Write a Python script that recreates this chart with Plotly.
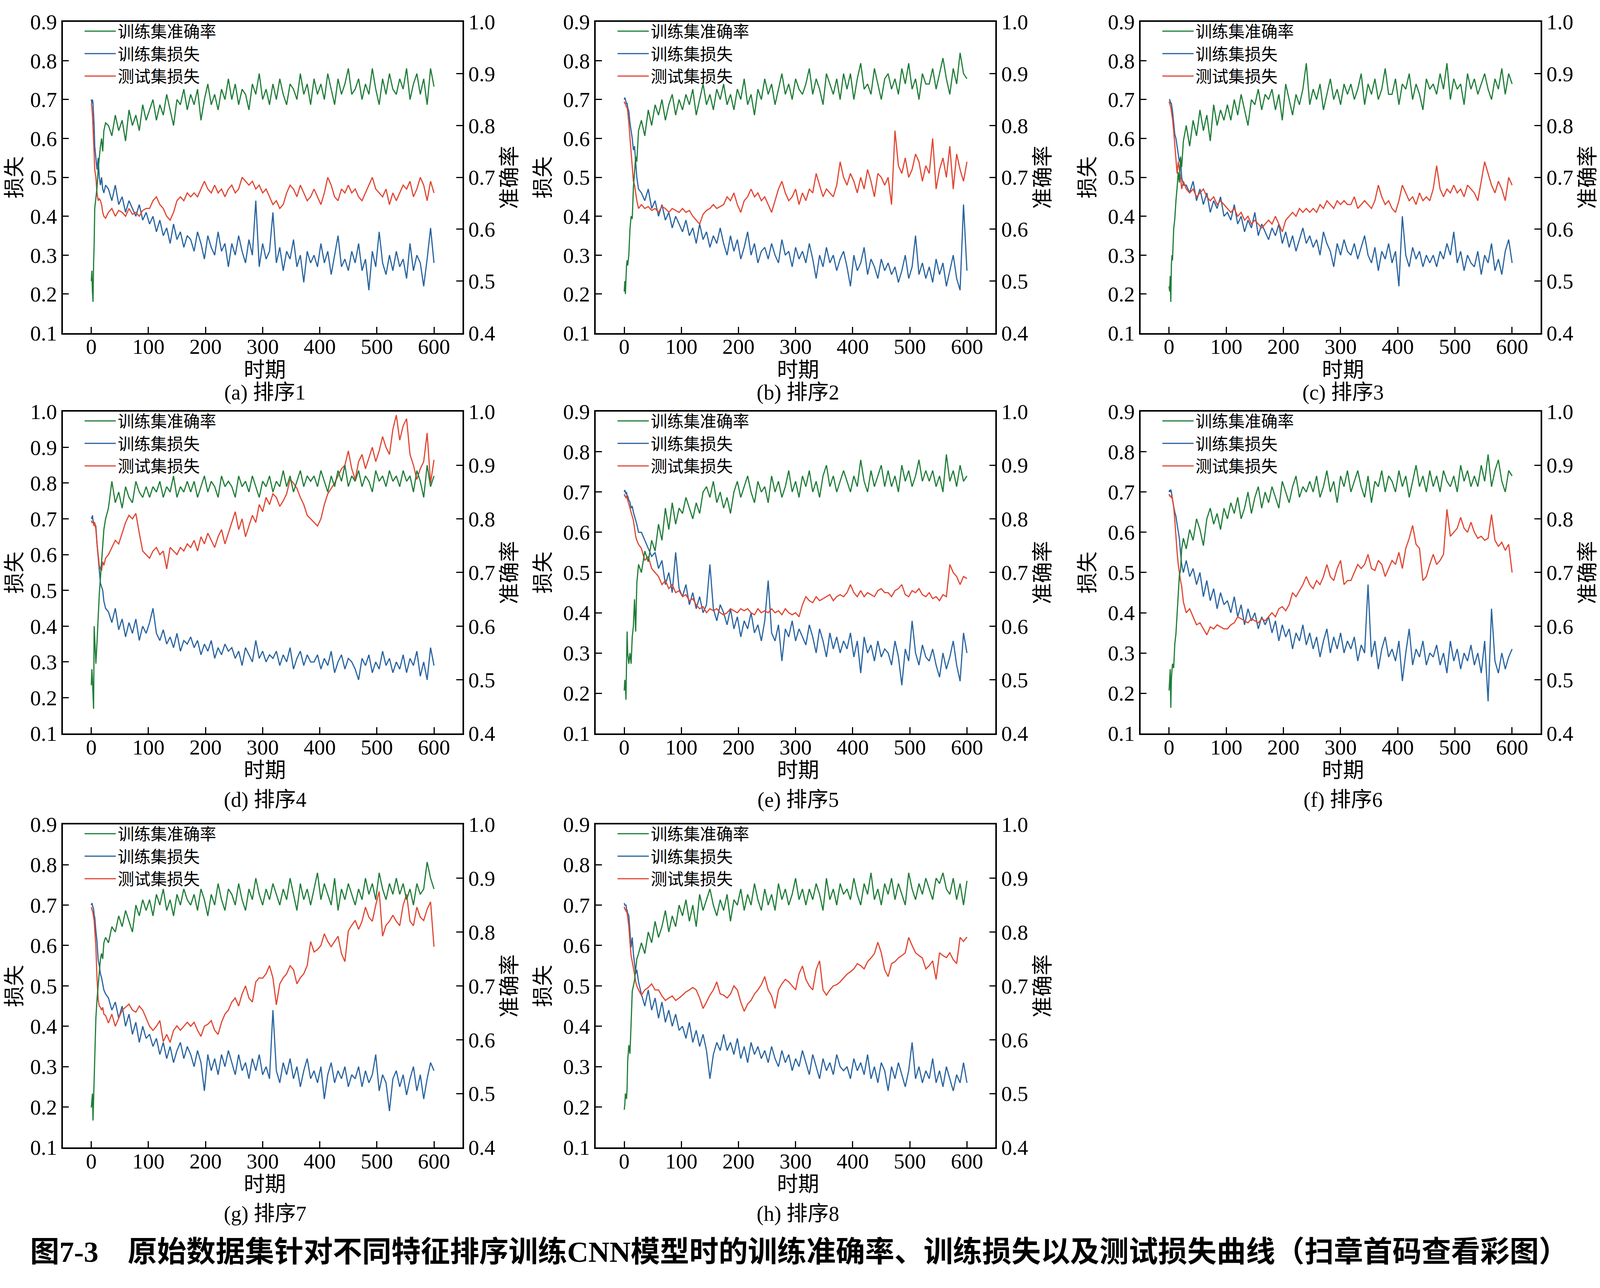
import plotly.graph_objects as go

# epochs sampled: dense at the start, then every 6 epochs
EPOCHS = [0, 1, 2, 3, 4, 5, 6, 8, 10, 12, 14, 16, 18, 20, 22, 25] + list(range(30, 601, 6))

# ---- (a) ----
acc_a = [0.50, 0.52, 0.48, 0.46, 0.535, 0.57, 0.64, 0.66, 0.68, 0.715, 0.74, 0.76, 0.775, 0.75, 0.79, 0.805,
         0.80, 0.78, 0.82, 0.79, 0.81, 0.77, 0.83, 0.80, 0.82, 0.79, 0.84, 0.81,
         0.83, 0.85, 0.81, 0.84, 0.82, 0.86, 0.83, 0.80, 0.85, 0.84, 0.87, 0.83,
         0.86, 0.84, 0.87, 0.81, 0.85, 0.88, 0.84, 0.86, 0.83, 0.87, 0.85, 0.89,
         0.85, 0.88, 0.84, 0.87, 0.86, 0.83, 0.88, 0.86, 0.90, 0.85, 0.87, 0.84,
         0.88, 0.85, 0.89, 0.86, 0.84, 0.88, 0.87, 0.85, 0.90, 0.86, 0.88, 0.84,
         0.89, 0.86, 0.88, 0.85, 0.90, 0.87, 0.84, 0.89, 0.86, 0.88, 0.91, 0.86,
         0.87, 0.89, 0.85, 0.88, 0.86, 0.91, 0.87, 0.84, 0.89, 0.86, 0.90, 0.87,
         0.86, 0.89, 0.87, 0.91, 0.85, 0.88, 0.90, 0.86, 0.89, 0.84, 0.91, 0.875]
loss_a = [0.70, 0.69, 0.70, 0.69, 0.66, 0.63, 0.58, 0.55, 0.52, 0.55, 0.50, 0.48, 0.50, 0.47, 0.46, 0.48,
          0.47, 0.44, 0.48, 0.43, 0.45, 0.41, 0.44, 0.42, 0.40, 0.43, 0.39, 0.41,
          0.38, 0.40, 0.36, 0.39, 0.35, 0.37, 0.33, 0.38, 0.34, 0.36, 0.32, 0.35,
          0.34, 0.31, 0.36, 0.33, 0.29, 0.35, 0.32, 0.30, 0.36, 0.31, 0.33, 0.27,
          0.33, 0.30, 0.35, 0.31, 0.28, 0.34, 0.30, 0.44, 0.27, 0.33, 0.29, 0.31,
          0.41, 0.28, 0.32, 0.26, 0.31, 0.29, 0.34, 0.27, 0.30, 0.23, 0.31, 0.28,
          0.30, 0.27, 0.33, 0.28, 0.31, 0.25, 0.30, 0.35, 0.27, 0.29, 0.26, 0.31,
          0.28, 0.33, 0.26, 0.29, 0.21, 0.31, 0.27, 0.36, 0.28, 0.25, 0.30, 0.26,
          0.31, 0.27, 0.29, 0.24, 0.33, 0.26, 0.30, 0.28, 0.22, 0.29, 0.37, 0.28]
test_a = [0.69, 0.68, 0.66, 0.63, 0.60, 0.56, 0.52, 0.50, 0.46, 0.44, 0.445, 0.44, 0.43, 0.41, 0.40, 0.395,
          0.41, 0.42, 0.40, 0.415, 0.41, 0.40, 0.42, 0.405, 0.41, 0.40, 0.415, 0.42,
          0.42, 0.44, 0.45, 0.43, 0.42, 0.40, 0.39, 0.41, 0.44, 0.45, 0.44, 0.46,
          0.45, 0.46, 0.45, 0.47, 0.49, 0.47, 0.46, 0.48, 0.46, 0.47, 0.45, 0.47,
          0.48, 0.46, 0.47, 0.50, 0.49, 0.48, 0.49, 0.47, 0.48, 0.46, 0.47, 0.45,
          0.43, 0.44, 0.42, 0.43, 0.46, 0.48, 0.47, 0.45, 0.48, 0.46, 0.44, 0.45,
          0.47, 0.45, 0.43, 0.46, 0.50, 0.48, 0.45, 0.44, 0.47, 0.46, 0.48, 0.46,
          0.47, 0.45, 0.44, 0.46, 0.48, 0.50, 0.47, 0.46, 0.45, 0.47, 0.43, 0.46,
          0.44, 0.46, 0.48, 0.47, 0.49, 0.45, 0.47, 0.50, 0.48, 0.44, 0.49, 0.46]

# ---- (b) ----
acc_b = [0.48, 0.50, 0.475, 0.51, 0.53, 0.54, 0.53, 0.55, 0.60, 0.625, 0.62, 0.68, 0.71, 0.74, 0.73, 0.79,
         0.81, 0.78, 0.83, 0.80, 0.84, 0.82, 0.85, 0.81, 0.84, 0.86, 0.82, 0.85,
         0.83, 0.86, 0.84, 0.87, 0.82, 0.85, 0.88, 0.84, 0.86, 0.83, 0.87, 0.85,
         0.88, 0.84, 0.86, 0.83, 0.87, 0.85, 0.89, 0.84, 0.86, 0.82, 0.87, 0.85,
         0.89, 0.86, 0.88, 0.84, 0.87, 0.90, 0.86, 0.88, 0.85, 0.89, 0.87, 0.86,
         0.88, 0.91, 0.86, 0.89, 0.87, 0.84, 0.90, 0.88, 0.86, 0.89, 0.85, 0.90,
         0.87, 0.90, 0.85, 0.89, 0.92, 0.87, 0.88, 0.86, 0.91, 0.88, 0.85, 0.89,
         0.90, 0.87, 0.89, 0.86, 0.91, 0.88, 0.92, 0.87, 0.89, 0.85, 0.90, 0.88,
         0.88, 0.91, 0.87, 0.90, 0.93, 0.89, 0.86, 0.91, 0.88, 0.94, 0.90, 0.89]
loss_b = [0.70, 0.705, 0.70, 0.695, 0.69, 0.69, 0.68, 0.67, 0.64, 0.62, 0.60, 0.57, 0.58, 0.54, 0.50, 0.47,
          0.46, 0.44, 0.47, 0.42, 0.44, 0.40, 0.43, 0.39, 0.41, 0.37, 0.40, 0.38,
          0.36, 0.39, 0.35, 0.37, 0.33, 0.38, 0.34, 0.36, 0.32, 0.35, 0.33, 0.37,
          0.33, 0.30, 0.35, 0.31, 0.34, 0.29, 0.32, 0.36, 0.30, 0.33, 0.28, 0.31,
          0.32, 0.29, 0.33, 0.30, 0.28, 0.34, 0.30, 0.31, 0.27, 0.32, 0.29, 0.31,
          0.28, 0.33, 0.29, 0.24, 0.30, 0.27, 0.32, 0.28, 0.30, 0.26, 0.29, 0.31,
          0.27, 0.22, 0.30, 0.26, 0.28, 0.32, 0.25, 0.29, 0.27, 0.24, 0.29, 0.26,
          0.28, 0.25, 0.27, 0.23, 0.26, 0.30, 0.24, 0.27, 0.35, 0.25, 0.28, 0.24,
          0.27, 0.23, 0.29, 0.25, 0.28, 0.22, 0.26, 0.30, 0.24, 0.21, 0.43, 0.26]
test_b = [0.695, 0.69, 0.69, 0.685, 0.68, 0.68, 0.67, 0.64, 0.60, 0.56, 0.52, 0.49, 0.48, 0.46, 0.44, 0.42,
          0.43, 0.42, 0.425, 0.415, 0.42, 0.41, 0.425, 0.42, 0.41, 0.42, 0.415, 0.41,
          0.42, 0.41, 0.415, 0.40, 0.39, 0.38, 0.405, 0.415, 0.42, 0.43, 0.42, 0.425,
          0.43, 0.45, 0.44, 0.46, 0.43, 0.41, 0.44, 0.45, 0.47, 0.45, 0.46, 0.44,
          0.45, 0.43, 0.41, 0.44, 0.47, 0.49, 0.46, 0.44, 0.45, 0.47, 0.43, 0.46,
          0.44, 0.47, 0.46, 0.51, 0.48, 0.45, 0.47, 0.46, 0.45, 0.48, 0.54, 0.50,
          0.48, 0.51, 0.49, 0.46, 0.50, 0.47, 0.52, 0.49, 0.45, 0.51, 0.50, 0.48,
          0.50, 0.43, 0.62, 0.53, 0.51, 0.55, 0.50, 0.52, 0.56, 0.54, 0.49, 0.53,
          0.51, 0.60, 0.47, 0.52, 0.55, 0.50, 0.58, 0.47, 0.56, 0.52, 0.49, 0.54]

# ---- (c) ----
acc_c = [0.49, 0.48, 0.51, 0.46, 0.53, 0.55, 0.54, 0.60, 0.62, 0.655, 0.68, 0.71, 0.69, 0.74, 0.72, 0.77,
         0.80, 0.76, 0.81, 0.78, 0.83, 0.79, 0.82, 0.77, 0.84, 0.80, 0.83, 0.81,
         0.84, 0.81, 0.85, 0.82, 0.86, 0.83, 0.80, 0.85, 0.84, 0.87, 0.83, 0.86,
         0.85, 0.87, 0.83, 0.86, 0.81, 0.88, 0.85, 0.82, 0.86, 0.84, 0.87, 0.92,
         0.84, 0.87, 0.85, 0.88, 0.83, 0.86, 0.89, 0.85, 0.87, 0.84, 0.88, 0.86,
         0.88, 0.85, 0.87, 0.90, 0.84, 0.88, 0.86, 0.89, 0.85, 0.87, 0.91, 0.86,
         0.86, 0.89, 0.84, 0.88, 0.87, 0.90, 0.85, 0.88, 0.86, 0.83, 0.89, 0.87,
         0.88, 0.86, 0.90, 0.87, 0.92, 0.85, 0.89, 0.87, 0.88, 0.84, 0.90, 0.87,
         0.89, 0.86, 0.88, 0.90, 0.87, 0.85, 0.89, 0.87, 0.91, 0.86, 0.90, 0.88]
loss_c = [0.70, 0.70, 0.695, 0.69, 0.69, 0.68, 0.67, 0.64, 0.61, 0.60, 0.58, 0.56, 0.54, 0.55, 0.50, 0.48,
          0.48, 0.46, 0.49, 0.44, 0.47, 0.43, 0.46, 0.41, 0.44, 0.42, 0.45, 0.40,
          0.41, 0.39, 0.43, 0.38, 0.40, 0.36, 0.39, 0.37, 0.41, 0.35, 0.38, 0.36,
          0.34, 0.37, 0.35, 0.38, 0.33, 0.36, 0.32, 0.35, 0.31, 0.34, 0.37, 0.33,
          0.35, 0.32, 0.34, 0.30, 0.36, 0.33, 0.31, 0.27, 0.33, 0.30, 0.34, 0.31,
          0.30, 0.33, 0.29, 0.32, 0.35, 0.30, 0.28, 0.32, 0.26, 0.31, 0.29, 0.33,
          0.28, 0.31, 0.22, 0.40, 0.30, 0.27, 0.32, 0.29, 0.31, 0.27, 0.30, 0.28,
          0.30, 0.27, 0.31, 0.29, 0.33, 0.30, 0.36, 0.28, 0.31, 0.26, 0.30, 0.28,
          0.27, 0.31, 0.25, 0.30, 0.28, 0.33, 0.26, 0.29, 0.25, 0.31, 0.34, 0.28]
test_c = [0.695, 0.69, 0.685, 0.68, 0.67, 0.66, 0.65, 0.62, 0.58, 0.55, 0.51, 0.54, 0.52, 0.50, 0.47, 0.49,
          0.47, 0.46, 0.47, 0.45, 0.46, 0.47, 0.45, 0.44, 0.45, 0.43, 0.44, 0.43,
          0.42, 0.41, 0.42, 0.40, 0.41, 0.39, 0.40, 0.38, 0.39, 0.38, 0.37, 0.38,
          0.39, 0.38, 0.40, 0.38, 0.36, 0.39, 0.40, 0.41, 0.40, 0.42, 0.41, 0.42,
          0.41, 0.42, 0.41, 0.43, 0.42, 0.44, 0.43, 0.42, 0.44, 0.43, 0.44, 0.43,
          0.43, 0.45, 0.42, 0.43, 0.44, 0.43, 0.42, 0.44, 0.48, 0.45, 0.43, 0.44,
          0.42, 0.41, 0.44, 0.48, 0.46, 0.44, 0.45, 0.43, 0.46, 0.44, 0.45, 0.44,
          0.47, 0.53, 0.47, 0.45, 0.47, 0.46, 0.48, 0.46, 0.47, 0.45, 0.48, 0.47,
          0.46, 0.44, 0.49, 0.54, 0.51, 0.48, 0.46, 0.49, 0.47, 0.44, 0.50, 0.48]

# ---- (d) ----
acc_d = [0.49, 0.52, 0.50, 0.47, 0.446, 0.60, 0.58, 0.53, 0.57, 0.62, 0.66, 0.69, 0.72, 0.75, 0.78, 0.80,
         0.82, 0.87, 0.83, 0.85, 0.82, 0.86, 0.84, 0.83, 0.87, 0.85, 0.84, 0.86,
         0.84, 0.86, 0.85, 0.87, 0.84, 0.86, 0.85, 0.88, 0.84, 0.86, 0.85, 0.87,
         0.85, 0.87, 0.84, 0.86, 0.88, 0.85, 0.87, 0.86, 0.84, 0.88, 0.86, 0.87,
         0.86, 0.84, 0.88, 0.86, 0.87, 0.85, 0.88, 0.86, 0.84, 0.87, 0.86, 0.88,
         0.85, 0.87, 0.86, 0.89, 0.86, 0.88, 0.85, 0.87, 0.89, 0.86, 0.88, 0.87,
         0.88, 0.86, 0.89, 0.87, 0.85, 0.88, 0.86, 0.89, 0.87, 0.90, 0.86, 0.88,
         0.87, 0.89, 0.86, 0.88, 0.87, 0.85, 0.89, 0.87, 0.88, 0.86, 0.89, 0.87,
         0.88, 0.86, 0.89, 0.87, 0.88, 0.85, 0.89, 0.87, 0.84, 0.90, 0.86, 0.88]
loss_d = [0.705, 0.70, 0.71, 0.695, 0.69, 0.69, 0.685, 0.68, 0.63, 0.59, 0.55, 0.52, 0.51, 0.50, 0.47, 0.45,
          0.44, 0.41, 0.45, 0.39, 0.42, 0.37, 0.41, 0.38, 0.42, 0.36, 0.40, 0.38,
          0.41, 0.45, 0.38, 0.36, 0.39, 0.35, 0.37, 0.34, 0.38, 0.33, 0.36, 0.35,
          0.37, 0.34, 0.36, 0.32, 0.35, 0.33, 0.36, 0.31, 0.34, 0.32, 0.35, 0.33,
          0.34, 0.31, 0.33, 0.29, 0.34, 0.32, 0.30, 0.36, 0.31, 0.33, 0.30, 0.32,
          0.31, 0.33, 0.29, 0.32, 0.30, 0.34, 0.28, 0.31, 0.33, 0.29, 0.32, 0.30,
          0.30, 0.32, 0.28, 0.31, 0.29, 0.33, 0.27, 0.30, 0.32, 0.28, 0.31, 0.30,
          0.28, 0.25, 0.31, 0.29, 0.32, 0.27, 0.30, 0.28, 0.33, 0.29, 0.31, 0.27,
          0.30, 0.28, 0.32, 0.27, 0.31, 0.29, 0.33, 0.26, 0.30, 0.25, 0.34, 0.29]
test_d = [0.695, 0.69, 0.69, 0.69, 0.685, 0.68, 0.69, 0.67, 0.63, 0.60, 0.57, 0.56, 0.555, 0.58, 0.57, 0.59,
          0.60, 0.62, 0.64, 0.63, 0.66, 0.69, 0.71, 0.70, 0.715, 0.66, 0.61, 0.60,
          0.59, 0.61, 0.62, 0.60, 0.61, 0.56, 0.62, 0.61, 0.60, 0.62, 0.61, 0.63,
          0.62, 0.64, 0.61, 0.65, 0.63, 0.66, 0.64, 0.62, 0.65, 0.67, 0.63, 0.66,
          0.69, 0.72, 0.67, 0.70, 0.65, 0.68, 0.71, 0.69, 0.74, 0.72, 0.76, 0.74,
          0.77, 0.76, 0.735, 0.75, 0.77, 0.81, 0.80, 0.785, 0.76, 0.74, 0.71, 0.70,
          0.69, 0.68, 0.70, 0.74, 0.77, 0.785, 0.80, 0.82, 0.84, 0.85, 0.89, 0.84,
          0.81, 0.86, 0.88, 0.84, 0.87, 0.90, 0.86, 0.89, 0.93, 0.90, 0.88, 0.95,
          0.99, 0.92, 0.96, 0.98, 0.88, 0.85, 0.81, 0.84, 0.86, 0.94, 0.80, 0.865]

# ---- (e) ----
acc_e = [0.48, 0.50, 0.49, 0.463, 0.53, 0.59, 0.55, 0.53, 0.55, 0.53, 0.58, 0.60, 0.65, 0.59, 0.68, 0.715,
         0.70, 0.74, 0.72, 0.76, 0.74, 0.79, 0.76, 0.82, 0.78, 0.83, 0.79, 0.82,
         0.81, 0.84, 0.82, 0.80, 0.83, 0.81, 0.85, 0.86, 0.84, 0.87, 0.83, 0.85,
         0.82, 0.84, 0.81, 0.85, 0.87, 0.84, 0.86, 0.88, 0.85, 0.83, 0.87, 0.85,
         0.86, 0.83, 0.88, 0.85, 0.87, 0.84, 0.86, 0.89, 0.85, 0.87, 0.84, 0.88,
         0.86, 0.89, 0.85, 0.87, 0.84, 0.88, 0.90, 0.86, 0.88, 0.85, 0.87, 0.89,
         0.87, 0.85, 0.88, 0.86, 0.91, 0.87, 0.85, 0.89, 0.86, 0.88, 0.90, 0.86,
         0.89, 0.86, 0.88, 0.85, 0.90, 0.87, 0.89, 0.86, 0.88, 0.91, 0.87, 0.89,
         0.87, 0.89, 0.86, 0.88, 0.85, 0.92, 0.87, 0.89, 0.86, 0.90, 0.87, 0.88]
loss_e = [0.70, 0.705, 0.70, 0.695, 0.70, 0.69, 0.69, 0.68, 0.675, 0.66, 0.665, 0.65, 0.64, 0.63, 0.62, 0.60,
          0.60, 0.58, 0.56, 0.54, 0.55, 0.51, 0.53, 0.47, 0.50, 0.45, 0.55, 0.46,
          0.44, 0.47, 0.42, 0.45, 0.41, 0.44, 0.40, 0.42, 0.52, 0.41, 0.38, 0.42,
          0.40, 0.37, 0.41, 0.36, 0.39, 0.34, 0.38, 0.36, 0.40, 0.35, 0.37, 0.33,
          0.38, 0.48, 0.35, 0.33, 0.37, 0.28, 0.36, 0.34, 0.38, 0.33, 0.36, 0.34,
          0.32, 0.37, 0.34, 0.30, 0.36, 0.33, 0.29, 0.35, 0.31, 0.34, 0.30, 0.33,
          0.31, 0.35, 0.29, 0.33, 0.25, 0.34, 0.30, 0.32, 0.28, 0.33, 0.29, 0.31,
          0.30, 0.27, 0.33, 0.29, 0.22, 0.31, 0.28, 0.38, 0.30, 0.27, 0.32, 0.29,
          0.28, 0.31, 0.27, 0.24, 0.30, 0.26, 0.29, 0.33, 0.27, 0.23, 0.35, 0.30]
test_e = [0.695, 0.69, 0.69, 0.685, 0.69, 0.685, 0.68, 0.67, 0.66, 0.65, 0.64, 0.63, 0.61, 0.59, 0.58, 0.57,
          0.56, 0.53, 0.54, 0.51, 0.50, 0.49, 0.47, 0.48, 0.46, 0.47, 0.45, 0.455,
          0.44, 0.445, 0.43, 0.435, 0.42, 0.41, 0.415, 0.40, 0.41, 0.405, 0.41, 0.40,
          0.395, 0.40, 0.41, 0.405, 0.40, 0.41, 0.405, 0.41, 0.40, 0.395, 0.41, 0.40,
          0.405, 0.40, 0.41, 0.40, 0.405, 0.395, 0.41, 0.40, 0.395, 0.40, 0.39, 0.42,
          0.44, 0.43, 0.425, 0.44, 0.43, 0.435, 0.44, 0.445, 0.43, 0.44, 0.445, 0.44,
          0.45, 0.47, 0.45, 0.44, 0.455, 0.44, 0.45, 0.445, 0.44, 0.455, 0.46, 0.45,
          0.45, 0.44, 0.455, 0.46, 0.47, 0.445, 0.44, 0.455, 0.45, 0.46, 0.445, 0.44,
          0.45, 0.435, 0.44, 0.43, 0.445, 0.44, 0.52, 0.50, 0.49, 0.47, 0.49, 0.485]

# ---- (f) ----
acc_f = [0.48, 0.50, 0.52, 0.448, 0.50, 0.517, 0.53, 0.522, 0.567, 0.586, 0.62, 0.66, 0.695, 0.704, 0.744, 0.764,
         0.744, 0.78, 0.76, 0.80, 0.78, 0.75, 0.80, 0.82, 0.79, 0.81, 0.78, 0.82,
         0.80, 0.83, 0.81, 0.84, 0.80, 0.82, 0.85, 0.81, 0.84, 0.86, 0.82, 0.85,
         0.83, 0.86, 0.84, 0.82, 0.87, 0.85, 0.83, 0.86, 0.88, 0.84, 0.86, 0.85,
         0.87, 0.85, 0.88, 0.84, 0.86, 0.89, 0.85, 0.87, 0.83, 0.88, 0.86, 0.89,
         0.85, 0.87, 0.89, 0.86, 0.84, 0.88, 0.83, 0.87, 0.86, 0.89, 0.85, 0.88,
         0.87, 0.85, 0.89, 0.86, 0.88, 0.84, 0.87, 0.90, 0.86, 0.88, 0.85, 0.89,
         0.86, 0.88, 0.85, 0.89, 0.87, 0.86, 0.88, 0.85, 0.90, 0.87, 0.89, 0.86,
         0.88, 0.86, 0.90, 0.87, 0.92, 0.86, 0.89, 0.91, 0.87, 0.85, 0.89, 0.88]
loss_f = [0.70, 0.705, 0.70, 0.706, 0.70, 0.69, 0.68, 0.664, 0.65, 0.64, 0.62, 0.60, 0.585, 0.55, 0.52, 0.50,
          0.53, 0.49, 0.51, 0.47, 0.50, 0.44, 0.48, 0.43, 0.46, 0.41, 0.45, 0.42,
          0.43, 0.40, 0.44, 0.39, 0.42, 0.37, 0.41, 0.38, 0.40, 0.36, 0.39, 0.37,
          0.39, 0.35, 0.38, 0.33, 0.37, 0.34, 0.36, 0.31, 0.35, 0.33, 0.37, 0.32,
          0.35, 0.31, 0.34, 0.29, 0.33, 0.36, 0.30, 0.34, 0.31, 0.35, 0.30, 0.33,
          0.31, 0.34, 0.28, 0.32, 0.30, 0.47, 0.29, 0.33, 0.26, 0.31, 0.34, 0.29,
          0.31, 0.28, 0.33, 0.23, 0.30, 0.36, 0.27, 0.31, 0.29, 0.33, 0.27, 0.30,
          0.29, 0.32, 0.27, 0.30, 0.25, 0.33, 0.28, 0.31, 0.26, 0.30, 0.28, 0.32,
          0.27, 0.30, 0.25, 0.33, 0.18, 0.41, 0.28, 0.25, 0.30, 0.26, 0.29, 0.31]
test_f = [0.695, 0.69, 0.69, 0.69, 0.685, 0.69, 0.68, 0.664, 0.63, 0.585, 0.55, 0.52, 0.50, 0.48, 0.466, 0.427,
          0.40, 0.41, 0.39, 0.37, 0.375, 0.36, 0.345, 0.365, 0.36, 0.37, 0.365, 0.36,
          0.36, 0.37, 0.375, 0.39, 0.385, 0.38, 0.375, 0.385, 0.38, 0.375, 0.385, 0.38,
          0.39, 0.40, 0.39, 0.41, 0.415, 0.405, 0.42, 0.45, 0.44, 0.455, 0.47, 0.49,
          0.47, 0.46, 0.48, 0.47, 0.49, 0.52, 0.49, 0.48, 0.51, 0.53, 0.47, 0.48,
          0.48, 0.50, 0.52, 0.51, 0.52, 0.545, 0.51, 0.505, 0.53, 0.52, 0.49, 0.51,
          0.53, 0.52, 0.55, 0.51, 0.56, 0.585, 0.617, 0.57, 0.56, 0.48, 0.49, 0.52,
          0.545, 0.52, 0.53, 0.545, 0.657, 0.59, 0.60, 0.61, 0.637, 0.61, 0.60, 0.625,
          0.60, 0.585, 0.59, 0.58, 0.585, 0.644, 0.58, 0.565, 0.575, 0.555, 0.57, 0.50]

# ---- (g) ----
acc_g = [0.474, 0.49, 0.50, 0.45, 0.49, 0.52, 0.55, 0.64, 0.675, 0.70, 0.73, 0.75, 0.76, 0.75, 0.78, 0.79,
         0.78, 0.81, 0.80, 0.83, 0.81, 0.84, 0.82, 0.80, 0.85, 0.83, 0.86, 0.84,
         0.86, 0.83, 0.87, 0.85, 0.88, 0.84, 0.86, 0.83, 0.87, 0.85, 0.88, 0.86,
         0.85, 0.87, 0.84, 0.88, 0.86, 0.83, 0.87, 0.85, 0.89, 0.86, 0.84, 0.88,
         0.87, 0.85, 0.89, 0.86, 0.84, 0.88, 0.86, 0.90, 0.87, 0.85, 0.88, 0.86,
         0.89, 0.87, 0.85, 0.88, 0.86, 0.90, 0.87, 0.84, 0.89, 0.86, 0.88, 0.85,
         0.88, 0.91, 0.86, 0.89, 0.87, 0.85, 0.90, 0.84, 0.88, 0.86, 0.89, 0.87,
         0.85, 0.88, 0.86, 0.90, 0.87, 0.89, 0.86, 0.91, 0.88, 0.86, 0.89, 0.87,
         0.90, 0.87, 0.89, 0.86, 0.88, 0.85, 0.89, 0.87, 0.88, 0.93, 0.90, 0.88]
loss_g = [0.70, 0.705, 0.70, 0.695, 0.69, 0.675, 0.67, 0.636, 0.61, 0.564, 0.55, 0.53, 0.52, 0.505, 0.49, 0.48,
          0.47, 0.44, 0.46, 0.42, 0.45, 0.40, 0.43, 0.38, 0.41, 0.36, 0.40, 0.37,
          0.38, 0.35, 0.37, 0.33, 0.36, 0.32, 0.35, 0.31, 0.34, 0.36, 0.32, 0.35,
          0.33, 0.30, 0.34, 0.31, 0.24, 0.33, 0.29, 0.32, 0.28, 0.33, 0.30, 0.34,
          0.31, 0.28, 0.33, 0.29, 0.31, 0.27, 0.32, 0.29, 0.33, 0.28, 0.30, 0.27,
          0.44, 0.29, 0.26, 0.31, 0.28, 0.32, 0.27, 0.30, 0.25, 0.29, 0.32, 0.27,
          0.29, 0.26, 0.30, 0.22, 0.28, 0.31, 0.26, 0.29, 0.27, 0.30, 0.25, 0.28,
          0.27, 0.30, 0.25, 0.29, 0.26, 0.28, 0.33, 0.24, 0.28, 0.26, 0.19, 0.27,
          0.29, 0.25, 0.28, 0.23, 0.27, 0.30, 0.24, 0.28, 0.22, 0.27, 0.31, 0.29]
test_g = [0.695, 0.69, 0.685, 0.68, 0.67, 0.662, 0.64, 0.597, 0.519, 0.466, 0.45, 0.447, 0.44, 0.447, 0.43, 0.427,
          0.408, 0.43, 0.40, 0.42, 0.44, 0.447, 0.455, 0.44, 0.435, 0.45, 0.44, 0.42,
          0.40, 0.39, 0.40, 0.414, 0.362, 0.38, 0.36, 0.39, 0.401, 0.39, 0.40, 0.41,
          0.40, 0.41, 0.39, 0.375, 0.40, 0.405, 0.414, 0.39, 0.38, 0.41, 0.43, 0.44,
          0.46, 0.47, 0.45, 0.48, 0.50, 0.47, 0.46, 0.51, 0.52, 0.519, 0.53, 0.55,
          0.52, 0.453, 0.505, 0.52, 0.53, 0.55, 0.54, 0.505, 0.52, 0.53, 0.55, 0.61,
          0.584, 0.59, 0.60, 0.629, 0.61, 0.597, 0.61, 0.623, 0.58, 0.56, 0.636, 0.65,
          0.662, 0.64, 0.66, 0.695, 0.67, 0.66, 0.70, 0.734, 0.623, 0.65, 0.66, 0.675,
          0.66, 0.649, 0.70, 0.727, 0.66, 0.649, 0.695, 0.67, 0.662, 0.69, 0.708, 0.597]

# ---- (h) ----
acc_h = [0.47, 0.48, 0.50, 0.495, 0.49, 0.51, 0.56, 0.59, 0.574, 0.63, 0.69, 0.70, 0.71, 0.73, 0.75, 0.76,
         0.78, 0.76, 0.80, 0.78, 0.82, 0.79, 0.81, 0.84, 0.80, 0.83, 0.81, 0.85,
         0.83, 0.86, 0.82, 0.85, 0.81, 0.87, 0.84, 0.86, 0.88, 0.85, 0.83, 0.86,
         0.84, 0.87, 0.82, 0.86, 0.85, 0.88, 0.84, 0.87, 0.85, 0.89, 0.86, 0.84,
         0.88, 0.85, 0.87, 0.84, 0.89, 0.86, 0.88, 0.85, 0.87, 0.90, 0.86, 0.88,
         0.85, 0.88, 0.86, 0.89, 0.87, 0.84, 0.90, 0.86, 0.88, 0.85, 0.89, 0.87,
         0.88, 0.86, 0.90, 0.87, 0.85, 0.89, 0.87, 0.91, 0.86, 0.88, 0.85, 0.89,
         0.87, 0.90, 0.86, 0.89, 0.87, 0.85, 0.91, 0.88, 0.86, 0.89, 0.87, 0.90,
         0.88, 0.86, 0.90, 0.89, 0.91, 0.88, 0.87, 0.90, 0.86, 0.89, 0.85, 0.895]
loss_h = [0.705, 0.70, 0.70, 0.70, 0.69, 0.687, 0.68, 0.674, 0.634, 0.595, 0.62, 0.58, 0.555, 0.53, 0.54, 0.51,
          0.48, 0.45, 0.49, 0.44, 0.47, 0.42, 0.46, 0.41, 0.44, 0.40, 0.43, 0.39,
          0.40, 0.37, 0.41, 0.36, 0.39, 0.35, 0.38, 0.34, 0.27, 0.33, 0.36, 0.34,
          0.38, 0.34, 0.36, 0.33, 0.37, 0.32, 0.35, 0.31, 0.36, 0.33, 0.35, 0.32,
          0.34, 0.31, 0.35, 0.32, 0.30, 0.34, 0.31, 0.33, 0.29, 0.32, 0.30, 0.34,
          0.31, 0.28, 0.33, 0.30, 0.27, 0.32, 0.29, 0.31, 0.28, 0.33, 0.30, 0.29,
          0.30, 0.27, 0.32, 0.29, 0.31, 0.28, 0.33, 0.27, 0.30, 0.26, 0.31, 0.29,
          0.24, 0.30, 0.27, 0.31, 0.28, 0.25, 0.29, 0.36, 0.27, 0.30, 0.26, 0.29,
          0.27, 0.32, 0.26, 0.29, 0.25, 0.30, 0.27, 0.24, 0.28, 0.26, 0.31, 0.26]
test_h = [0.696, 0.69, 0.69, 0.685, 0.685, 0.68, 0.67, 0.647, 0.608, 0.575, 0.56, 0.545, 0.529, 0.51, 0.50, 0.49,
          0.477, 0.49, 0.496, 0.505, 0.49, 0.49, 0.475, 0.464, 0.47, 0.475, 0.464, 0.47,
          0.477, 0.485, 0.49, 0.496, 0.49, 0.47, 0.444, 0.46, 0.477, 0.49, 0.51, 0.48,
          0.477, 0.47, 0.48, 0.50, 0.49, 0.46, 0.437, 0.455, 0.464, 0.48, 0.49, 0.503,
          0.523, 0.49, 0.475, 0.444, 0.49, 0.505, 0.516, 0.51, 0.50, 0.49, 0.53, 0.549,
          0.516, 0.50, 0.49, 0.54, 0.562, 0.49, 0.477, 0.49, 0.50, 0.503, 0.51, 0.52,
          0.529, 0.535, 0.542, 0.555, 0.55, 0.542, 0.56, 0.569, 0.58, 0.608, 0.582, 0.54,
          0.523, 0.555, 0.56, 0.569, 0.575, 0.582, 0.62, 0.60, 0.582, 0.575, 0.569, 0.542,
          0.55, 0.562, 0.516, 0.582, 0.575, 0.57, 0.582, 0.565, 0.555, 0.62, 0.61, 0.621]

TAGS = ["(a) 排序1", "(b) 排序2", "(c) 排序3", "(d) 排序4",
        "(e) 排序5", "(f) 排序6", "(g) 排序7", "(h) 排序8"]
LOSS_TOP = [0.9, 0.9, 0.9, 1.0, 0.9, 0.9, 0.9, 0.9]
SERIES = [(acc_a, loss_a, test_a), (acc_b, loss_b, test_b), (acc_c, loss_c, test_c),
          (acc_d, loss_d, test_d), (acc_e, loss_e, test_e), (acc_f, loss_f, test_f),
          (acc_g, loss_g, test_g), (acc_h, loss_h, test_h)]
NAMES = ["训练集准确率", "训练集损失", "测试集损失"]
TITLE = "图7-3\u3000原始数据集针对不同特征排序训练CNN模型时的训练准确率、训练损失以及测试损失曲线（扫章首码查看彩图）"

for s in SERIES:
    for arr in s:
        assert len(arr) == len(EPOCHS), len(arr)

FONT = "Liberation Serif, Noto Sans CJK SC"
GREEN, BLUE, RED = "#1e7d37", "#2864a0", "#e14632"

# the photographed page comes out a little wider and lower than the figure,
# so positions measured on the reference are mapped back before use
OFF = 8
W, H = 4182 - 2 * OFF, 3298 - 2 * OFF
SCALE_X, SHIFT_X, SHIFT_Y = 1.021, 4, 24
COL_X = [(160, 1205), (1553, 2598), (2977, 4023)]
ROW_Y = [(50, 862), (1067, 1907), (2144, 2987)]   # first row top kept clear of the page edge
CAPTION_Y = [1017, 2080, 3160]


def px(x):
    return ((x + SHIFT_X) / SCALE_X - OFF) / W


def py(y):
    return 1 - (y - SHIFT_Y - OFF) / H


fig = go.Figure()
layout = {}
annotations = []

common = dict(showline=True, linecolor="black", linewidth=3.5, ticks="inside",
              ticklen=16, tickwidth=3, tickcolor="black", showgrid=False,
              zeroline=False, tickfont=dict(family=FONT, size=55, color="black"))
title_font = dict(family=FONT, size=54, color="black")

for i, (acc, loss, test) in enumerate(SERIES):
    r, c = divmod(i, 3)
    n = i + 1
    xid = "x" if n == 1 else f"x{n}"
    ylid = "y" if i == 0 else f"y{2 * i + 1}"
    yrid = f"y{2 * i + 2}"
    leg = "legend" if n == 1 else f"legend{n}"

    fig.add_trace(go.Scatter(x=EPOCHS, y=acc, mode="lines", name=NAMES[0], xaxis=xid, yaxis=yrid,
                             line=dict(color=GREEN, width=3), legend=leg))
    fig.add_trace(go.Scatter(x=EPOCHS, y=loss, mode="lines", name=NAMES[1], xaxis=xid, yaxis=ylid,
                             line=dict(color=BLUE, width=3), legend=leg))
    fig.add_trace(go.Scatter(x=EPOCHS, y=test, mode="lines", name=NAMES[2], xaxis=xid, yaxis=ylid,
                             line=dict(color=RED, width=3), legend=leg))

    x0, x1 = COL_X[c]
    y0, y1 = ROW_Y[r]
    layout["xaxis" if n == 1 else f"xaxis{n}"] = dict(
        domain=[px(x0), px(x1)], anchor=ylid, range=[-50, 650],
        tickvals=[0, 100, 200, 300, 400, 500, 600], mirror=True,
        ticklabelstandoff=-16, **common)
    layout["yaxis" if i == 0 else f"yaxis{2 * i + 1}"] = dict(
        domain=[py(y1), py(y0)], anchor=xid, range=[0.1, LOSS_TOP[i]],
        tick0=0.1, dtick=0.1, tickformat=".1f",
        title=dict(text="损失", font=title_font, standoff=16), **common)
    layout[f"yaxis{2 * i + 2}"] = dict(
        overlaying=ylid, side="right", anchor=xid, range=[0.4, 1.0],
        tick0=0.4, dtick=0.1, tickformat=".1f",
        title=dict(text="准确率", font=title_font, standoff=20), **common)
    layout[leg] = dict(x=px(x0 + 52), y=py(y0 - 10), xanchor="left", yanchor="top",
                       bgcolor="rgba(0,0,0,0)", borderwidth=0, tracegroupgap=0,
                       itemwidth=80, font=dict(family=FONT, size=42, color="black"))
    xc = px((x0 + x1) / 2 + 6)
    annotations.append(dict(text="时期", x=xc, y=py(y1 + 97), xref="paper", yref="paper",
                            showarrow=False, xanchor="center", yanchor="middle", font=title_font))
    annotations.append(dict(text=TAGS[i], x=xc, y=py(CAPTION_Y[r]), xref="paper", yref="paper",
                            showarrow=False, xanchor="center", yanchor="middle", font=title_font))

annotations.append(dict(text="<b>" + TITLE + "</b>", x=px(2084), y=py(3259),
                        xref="paper", yref="paper", showarrow=False,
                        xanchor="center", yanchor="middle",
                        font=dict(family=FONT, size=75, color="black")))

fig.update_layout(width=W, height=H, margin=dict(l=0, r=0, t=0, b=0),
                  paper_bgcolor="white", plot_bgcolor="white", showlegend=True,
                  annotations=annotations, **layout)

fig.write_html("out.html")
